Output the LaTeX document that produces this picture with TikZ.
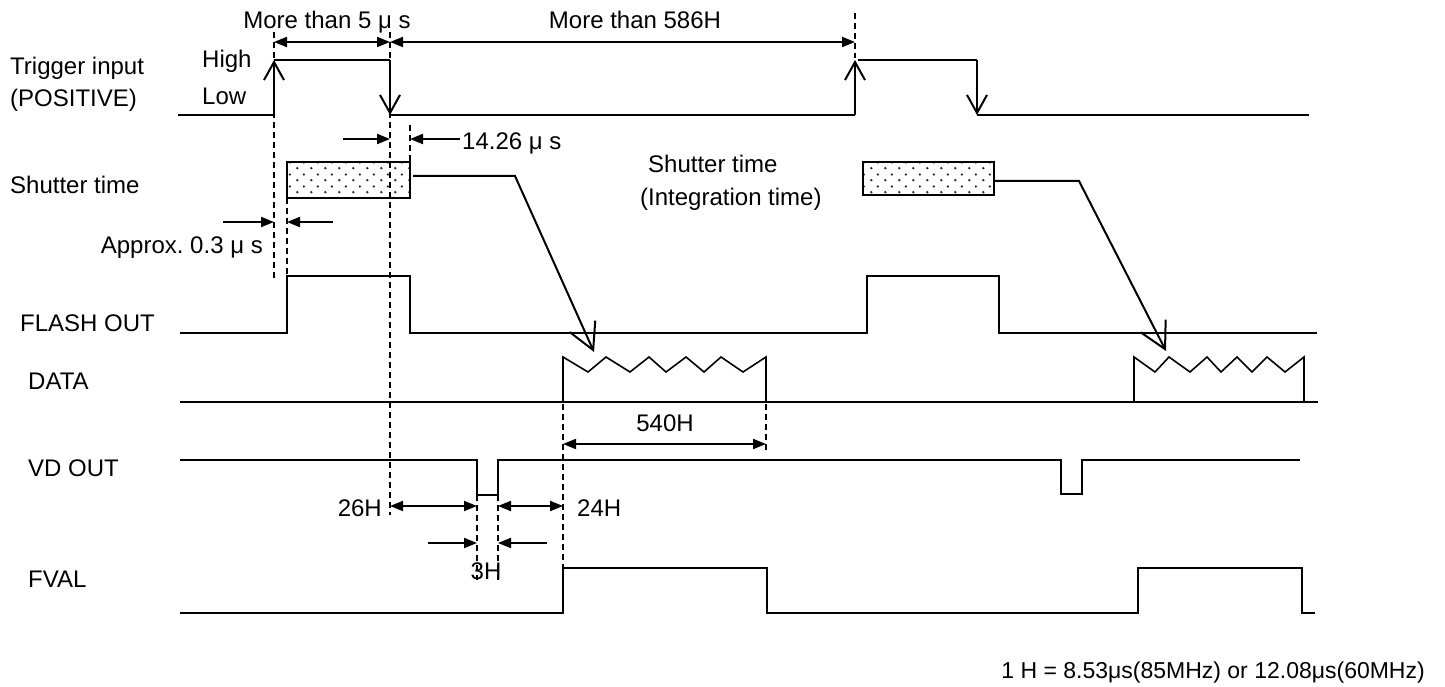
\documentclass[tikz,border=0pt]{standalone}
\usepackage{fontspec}
\setmainfont{Liberation Sans}
\usetikzlibrary{arrows.meta,patterns.meta}

\tikzdeclarepattern{
  name=shdots,
  type=uncolored,
  bottom left={(0pt,0pt)},
  top right={(14pt,12pt)},
  tile size={(14pt,12pt)},
  code={
    \fill (3.5pt,3pt) circle (1.4pt);
    \fill (10.5pt,9pt) circle (1.4pt);
  }
}

\begin{document}
\begin{tikzpicture}[x=1pt,y=-1pt,
  sig/.style={line width=2pt},
  guide/.style={line width=1.4pt, dash pattern=on 6pt off 4pt},
  dimboth/.style={line width=2pt,{Triangle[length=13pt,width=10pt]}-{Triangle[length=13pt,width=10pt]}},
  dimto/.style={line width=2pt,-{Triangle[length=13pt,width=10pt]}},
  edgearrow/.style={line width=2pt,-{Straight Barb[length=18pt,width=20pt]}},
  feed/.style={line width=2pt,-{Straight Barb[length=26pt,width=28pt]}},
  lbl/.style={inner sep=0pt,font=\fontsize{24}{28}\selectfont},
  shbox/.style={draw,line width=2pt,pattern=shdots,pattern color=black!85,inner sep=0pt,outer sep=0pt}
]
\useasboundingbox (0,0) rectangle (1445,687);

% ---------- labels ----------
\node[lbl,anchor=base west] (tTrig) at (10,75) {Trigger input};
\node[lbl,anchor=base west] (tPos) at (10,107) {(POSITIVE)};
\node[lbl,anchor=base west] (tHigh) at (202,68) {High};
\node[lbl,anchor=base west] (tLow) at (202,105) {Low};
\node[lbl,anchor=base] (t5us) at (327,29) {More than 5 μ s};
\node[lbl,anchor=base] (t586) at (635,29) {More than 586H};
\node[lbl,anchor=base west] (t1426) at (462,150) {14.26 μ s};
\node[lbl,anchor=base west] (tSh1) at (10,194) {Shutter time};
\node[lbl,anchor=base east] (tApprox) at (263,253) {Approx.\ 0.3 μ s};
\node[lbl,anchor=base west] (tSh2) at (648,173) {Shutter time};
\node[lbl,anchor=base west] (tInt) at (640,206) {(Integration time)};
\node[lbl,anchor=base west] (tFlash) at (20,331) {FLASH OUT};
\node[lbl,anchor=base west] (tData) at (28,389) {DATA};
\node[lbl,anchor=base] (t540) at (665,431) {540H};
\node[lbl,anchor=base west] (tVD) at (28,476) {VD OUT};
\node[lbl,anchor=base east] (t26) at (382,516) {26H};
\node[lbl,anchor=base west] (t24) at (577,516) {24H};
\node[lbl,anchor=base] (t3) at (486,579) {3H};
\node[lbl,anchor=base west] (tFval) at (28,587) {FVAL};
\node[inner sep=0pt,anchor=base east,font=\fontsize{23}{27}\selectfont] (tNote) at (1425,678) {1 H = 8.53μs(85MHz) or 12.08μs(60MHz)};

% ---------- guide (dashed) lines ----------
\draw[guide] (274,32) -- (274,278);
\draw[guide] (390,32) -- (390,515);
\draw[guide] (410,125) -- (410,162);
\draw[guide] (287,198) -- (287,276);
\draw[guide] (855,13) -- (855,58);
\draw[guide] (563,404) -- (563,568);
\draw[guide] (766,404) -- (766,452);
\draw[guide] (477,495) -- (477,580);
\draw[guide] (498,495) -- (498,580);

% ---------- trigger input ----------
\draw[sig] (178,115) -- (274,115);
\draw[edgearrow] (274,115) -- (274,60);
\draw[sig] (274,60) -- (390,60);
\draw[edgearrow] (390,60) -- (390,115);
\draw[sig] (390,115) -- (855,115);
\draw[edgearrow] (855,115) -- (855,60);
\draw[sig] (858,60) -- (977,60);
\draw[edgearrow] (977,60) -- (977,115);
\draw[sig] (977,115) -- (1309,115);

% ---------- shutter boxes ----------
\node[shbox,minimum width=123pt,minimum height=36pt] (sh1) at (348.5,180) {};
\node[shbox,minimum width=131pt,minimum height=33pt] (sh2) at (928.5,178.5) {};
\coordinate (d1) at (594,352);
\coordinate (d2) at (1166,351);
\draw[feed] ([xshift=3pt,yshift=4pt]sh1.east) -- (515,176) -- (d1);
\draw[feed] ([yshift=-2.5pt]sh2.east) -- (1079,181) -- (d2);

% ---------- FLASH OUT ----------
\draw[sig] (180,333) -- (287,333) -- (287,276) -- (410,276) -- (410,333)
  -- (867,333) -- (867,276) -- (999,276) -- (999,333) -- (1317,333);

% ---------- DATA ----------
\draw[sig] (180,402) -- (1318,402);
\draw[line width=1.6pt] (563,402) -- (563,357) -- (588,372) -- (606,357) -- (630,372) -- (649,357)
  -- (666,372) -- (686,357) -- (704,372) -- (721,357) -- (743,372) -- (766,357) -- (766,402);
\draw[line width=1.6pt] (1134,402) -- (1134,357) -- (1155,372) -- (1169,357) -- (1190,372) -- (1207,357)
  -- (1221,372) -- (1237,357) -- (1252,372) -- (1267,357) -- (1285,372) -- (1304,357) -- (1304,402);

% ---------- VD OUT ----------
\draw[sig] (180,460) -- (477,460) -- (477,495) -- (498,495) -- (498,460)
  -- (1061,460) -- (1061,494) -- (1082,494) -- (1082,460) -- (1300,460);

% ---------- FVAL ----------
\draw[sig] (180,613) -- (563,613) -- (563,568) -- (767,568) -- (767,613)
  -- (1138,613) -- (1138,568) -- (1302,568) -- (1302,613) -- (1315,613);

% ---------- dimension arrows ----------
\draw[dimboth] (274,42) -- (390,42);
\draw[dimboth] (390,42) -- (855,42);
\draw[dimto] (343,139) -- (390,139);
\draw[dimto] (460,139) -- (410,139);
\draw[dimto] (223,222) -- (274,222);
\draw[dimto] (333,222) -- (287,222);
\draw[dimboth] (563,444) -- (766,444);
\draw[dimboth] (390,506) -- (477,506);
\draw[dimboth] (498,506) -- (563,506);
\draw[dimto] (428,543) -- (477,543);
\draw[dimto] (547,543) -- (498,543);
\end{tikzpicture}
\end{document}
